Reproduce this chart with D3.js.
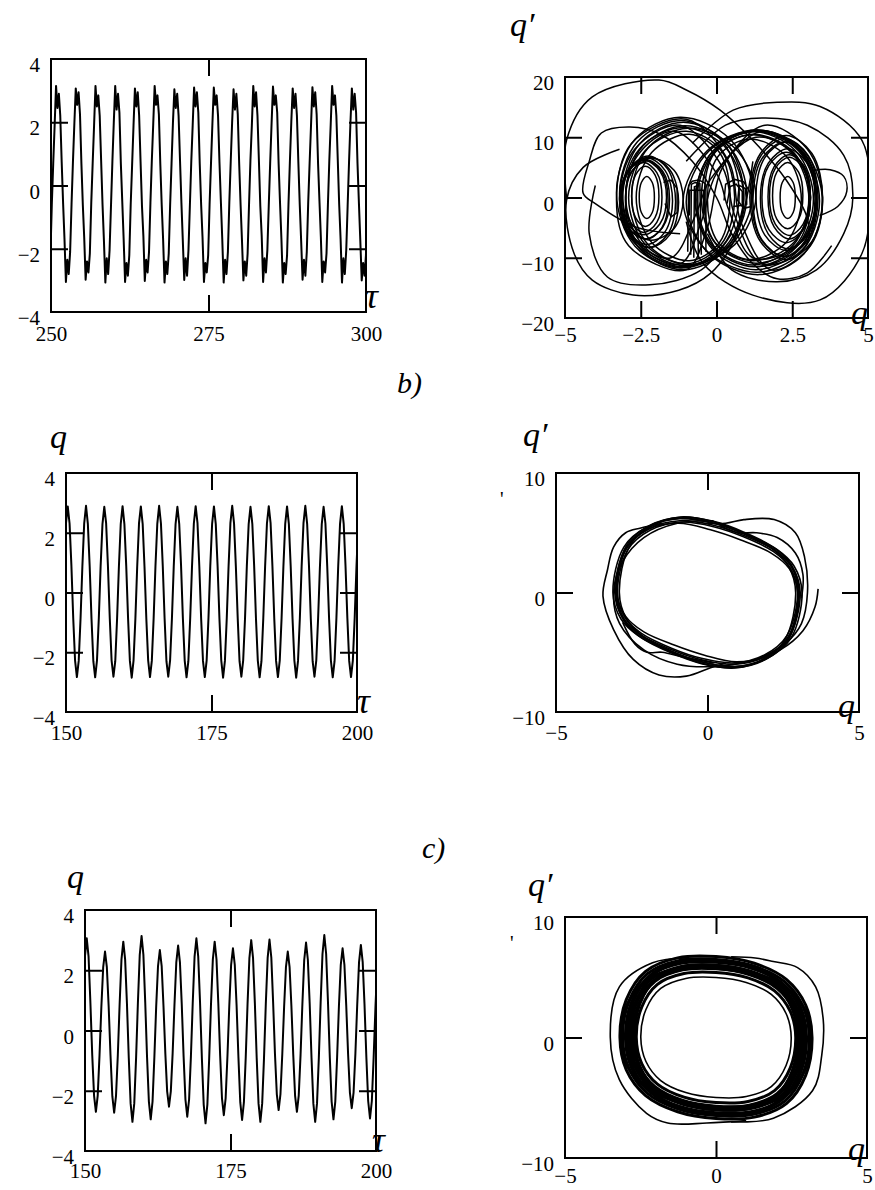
<!DOCTYPE html>
<html>
<head>
<meta charset="utf-8">
<script src="https://cdn.jsdelivr.net/npm/d3@7/dist/d3.min.js"></script>
<style>
  body { margin: 0; background: #fff; }
  text { font-family: "Liberation Serif", "Times New Roman", serif; fill: #000; }
</style>
</head>
<body>
<script>
/* ### Data ################################################################# */

// tick values
var qTimeTicks = [-4, -2, 0, 2, 4];
var tauTicksA = [250, 275, 300];
var tauTicksBC = [150, 175, 200];
var qPhaseTicksA = [-5, -2.5, 0, 2.5, 5];
var qPhaseTicksBC = [-5, 0, 5];
var dqTicksA = [-20, -10, 0, 10, 20];
var dqTicksBC = [-10, 0, 10];

// q(tau), sampled with a fixed step from tau0
var tauA0 = 249.906, dtauA = 0.2236;
var qA = [
  -2.2, -0.6, 0.7, 1.9,
  3.15, 2.45, 2.9, 2.2, 0.75, -0.55, -1.7, -3.05, -2.35, -2.8, -2.1, -0.6, 0.75, 1.95,
  3.07, 2.55, 2.95, 2.25, 0.7, -0.6, -1.65, -2.98, -2.4, -2.75, -2.15, -0.55, 0.7, 1.9,
  3.15, 2.5, 2.85, 2.2, 0.8, -0.6, -1.75, -3.07, -2.3, -2.8, -2.05, -0.65, 0.75, 2.0,
  3.15, 2.4, 2.9, 2.3, 0.7, -0.5, -1.7, -3.05, -2.45, -2.85, -2.2, -0.6, 0.65, 1.9,
  3.07, 2.5, 2.95, 2.2, 0.75, -0.65, -1.6, -3.02, -2.35, -2.75, -2.1, -0.55, 0.8, 1.95,
  3.15, 2.55, 2.85, 2.25, 0.7, -0.6, -1.7, -3.07, -2.4, -2.8, -2.15, -0.6, 0.7, 2.0,
  3.04, 2.45, 2.9, 2.2, 0.8, -0.55, -1.75, -2.99, -2.3, -2.85, -2.05, -0.65, 0.75, 1.9,
  3.1, 2.5, 2.95, 2.3, 0.7, -0.6, -1.65, -3.05, -2.45, -2.75, -2.2, -0.6, 0.7, 1.95,
  3.1, 2.55, 2.85, 2.2, 0.75, -0.5, -1.7, -3.07, -2.35, -2.8, -2.1, -0.55, 0.75, 2.0,
  3.04, 2.4, 2.9, 2.25, 0.7, -0.6, -1.75, -3.0, -2.4, -2.85, -2.15, -0.6, 0.8, 1.9,
  3.15, 2.5, 2.95, 2.2, 0.8, -0.65, -1.6, -3.05, -2.3, -2.75, -2.05, -0.65, 0.7, 1.95,
  3.13, 2.55, 2.85, 2.3, 0.7, -0.55, -1.7, -3.07, -2.45, -2.8, -2.2, -0.6, 0.75, 2.0,
  3.07, 2.45, 2.9, 2.2, 0.75, -0.6, -1.75, -2.98, -2.35, -2.85, -2.1, -0.55, 0.7, 1.9,
  3.11, 2.5, 2.95, 2.25, 0.7, -0.5, -1.65, -3.05, -2.4, -2.75, -2.15, -0.6, 0.8, 1.95,
  3.15, 2.55, 2.85, 2.2, 0.8, -0.6, -1.7, -3.07, -2.3, -2.8, -2.05, -0.65, 0.75, 2.0,
  3.07, 2.4, 2.9, 2.3, 0.7, -0.55, -1.75, -3.0, -2.45, -2.85, -2.2, -0.6, 0.7, 1.9
];

var tauB0 = 149.986, dtauB = 0.314;
var qB = [
  2.3,
  2.88, 2.31, 0.9, -0.86, -2.27, -2.83, -2.29, -0.88, 0.87, 2.31,
  2.9, 2.3, 0.88, -0.88, -2.3, -2.84, -2.27, -0.86, 0.9, 2.29,
  2.87, 2.32, 0.87, -0.87, -2.28, -2.82, -2.3, -0.87, 0.88, 2.3,
  2.89, 2.29, 0.89, -0.85, -2.29, -2.85, -2.28, -0.89, 0.86, 2.32,
  2.88, 2.3, 0.86, -0.88, -2.27, -2.83, -2.29, -0.86, 0.89, 2.3,
  2.9, 2.31, 0.88, -0.87, -2.3, -2.82, -2.27, -0.88, 0.87, 2.29,
  2.87, 2.3, 0.9, -0.86, -2.28, -2.84, -2.3, -0.87, 0.88, 2.31,
  2.89, 2.32, 0.87, -0.88, -2.29, -2.83, -2.28, -0.86, 0.9, 2.3,
  2.88, 2.29, 0.88, -0.87, -2.27, -2.85, -2.29, -0.88, 0.87, 2.32,
  2.9, 2.31, 0.86, -0.85, -2.3, -2.82, -2.27, -0.87, 0.89, 2.29,
  2.87, 2.3, 0.89, -0.88, -2.28, -2.84, -2.3, -0.86, 0.88, 2.31,
  2.89, 2.32, 0.88, -0.86, -2.29, -2.83, -2.28, -0.88, 0.86, 2.3,
  2.88, 2.29, 0.87, -0.87, -2.27, -2.85, -2.29, -0.87, 0.9, 2.32,
  2.9, 2.3, 0.9, -0.88, -2.3, -2.82, -2.27, -0.86, 0.87, 2.29,
  2.87, 2.31, 0.86, -0.87, -2.28, -2.84, -2.3, -0.88, 0.89, 2.3,
  2.89, 2.3, 0.88, -0.85, -2.29, -2.83, -2.28, -0.87, 0.88, 2.31,
  2.88
];

var tauC0 = 149.986, dtauC = 0.314;
var qC = [
  2.45,
  3.06, 2.45, 0.92, -0.81, -2.16, -2.70, -2.16, -0.81, 0.79, 2.10,
  2.62, 2.10, 0.79, -0.82, -2.18, -2.73, -2.18, -0.82, 0.89, 2.36,
  2.95, 2.36, 0.89, -0.91, -2.42, -3.03, -2.42, -0.91, 0.94, 2.51,
  3.14, 2.51, 0.94, -0.89, -2.36, -2.95, -2.36, -0.89, 0.80, 2.14,
  2.67, 2.14, 0.80, -0.76, -2.02, -2.53, -2.02, -0.76, 0.85, 2.26,
  2.82, 2.26, 0.85, -0.86, -2.29, -2.86, -2.29, -0.86, 0.92, 2.45,
  3.06, 2.45, 0.92, -0.92, -2.46, -3.08, -2.46, -0.92, 0.89, 2.36,
  2.95, 2.36, 0.89, -0.84, -2.25, -2.81, -2.25, -0.84, 0.82, 2.18,
  2.73, 2.18, 0.82, -0.89, -2.38, -2.97, -2.38, -0.89, 0.90, 2.40,
  3.00, 2.40, 0.90, -0.91, -2.42, -3.03, -2.42, -0.91, 0.91, 2.42,
  3.02, 2.42, 0.91, -0.79, -2.11, -2.64, -2.11, -0.79, 0.79, 2.10,
  2.62, 2.10, 0.79, -0.81, -2.16, -2.70, -2.16, -0.81, 0.88, 2.34,
  2.92, 2.34, 0.88, -0.91, -2.42, -3.03, -2.42, -0.91, 0.95, 2.54,
  3.17, 2.54, 0.95, -0.89, -2.36, -2.95, -2.36, -0.89, 0.82, 2.18,
  2.73, 2.18, 0.82, -0.77, -2.06, -2.58, -2.06, -0.77, 0.85, 2.27,
  2.84, 2.27, 0.85, -0.88, -2.34, -2.92, -2.34, -0.88, 0.80, 2.20,
  2.75
];

// phase plane (q, q'): closed loops and open pieces of trajectory
var loopsA = [
  // left well
  [[-2.05,0],[-2.12,2.49],[-2.3,3.5],[-2.48,2.49],[-2.55,0],[-2.48,-2.49],[-2.3,-3.5],[-2.12,-2.49]],
  [[-1.9,0.2],[-2.03,3.75],[-2.35,5.2],[-2.67,3.75],[-2.8,0.2],[-2.67,-3.35],[-2.35,-4.8],[-2.03,-3.35]],
  [[-1.6,-0.4],[-1.8,4.22],[-2.3,6.1],[-2.8,4.22],[-3.0,-0.4],[-2.8,-5.02],[-2.3,-6.9],[-1.8,-5.02]],
  [[-1.25,-0.8],[-1.53,4.53],[-2.2,6.7],[-2.87,4.53],[-3.15,-0.8],[-2.87,-6.13],[-2.2,-8.3],[-1.53,-6.13]],
  [[-1.1,-0.3],[-1.4,4.53],[-2.15,6.5],[-2.9,4.53],[-3.2,-0.3],[-2.9,-5.13],[-2.15,-7.1],[-1.4,-5.13]],
  [[-1.8,0],[-1.97,4.12],[-2.4,5.8],[-2.83,4.12],[-3.0,0],[-2.83,-4.12],[-2.4,-5.8],[-1.97,-4.12]],
  [[-1.45,-0.6],[-1.7,4.51],[-2.3,6.6],[-2.9,4.51],[-3.15,-0.6],[-2.9,-5.71],[-2.3,-7.8],[-1.7,-5.71]],
  [[-1.55,-0.3],[-1.78,4.39],[-2.35,6.3],[-2.92,4.39],[-3.15,-0.3],[-2.92,-4.99],[-2.35,-6.9],[-1.78,-4.99]],
  [[-1.35,-0.7],[-1.61,4.7],[-2.25,6.9],[-2.89,4.7],[-3.15,-0.7],[-2.89,-6.1],[-2.25,-8.3],[-1.61,-6.1]],
  [[-1.65,0],[-1.87,4.4],[-2.4,6.2],[-2.93,4.4],[-3.15,0],[-2.93,-4.4],[-2.4,-6.2],[-1.87,-4.4]],
  // right well
  [[2.6,0],[2.53,2.49],[2.35,3.5],[2.17,2.49],[2.1,0],[2.17,-2.49],[2.35,-3.5],[2.53,-2.49]],
  [[2.85,0.3],[2.71,4.2],[2.35,5.8],[1.99,4.2],[1.85,0.3],[1.99,-3.6],[2.35,-5.2],[2.71,-3.6]],
  [[3.1,0],[2.87,5.33],[2.3,7.5],[1.73,5.33],[1.5,0],[1.73,-5.33],[2.3,-7.5],[2.87,-5.33]],
  [[3.3,-0.3],[3.0,6.45],[2.25,9.2],[1.5,6.45],[1.2,-0.3],[1.5,-7.05],[2.25,-9.8],[3.0,-7.05]],
  [[3.5,0],[3.15,7.31],[2.3,10.3],[1.45,7.31],[1.1,0],[1.45,-7.31],[2.3,-10.3],[3.15,-7.31]],
  [[3.05,0.2],[2.86,4.82],[2.4,6.7],[1.94,4.82],[1.75,0.2],[1.94,-4.42],[2.4,-6.3],[2.86,-4.42]],
  [[3.3,0.2],[3.01,6.59],[2.3,9.2],[1.59,6.59],[1.3,0.2],[1.59,-6.19],[2.3,-8.8],[3.01,-6.19]],
  [[3.25,-0.2],[2.99,5.69],[2.35,8.1],[1.71,5.69],[1.45,-0.2],[1.71,-6.09],[2.35,-8.5],[2.99,-6.09]],
  [[3.35,0],[3.03,6.96],[2.25,9.8],[1.47,6.96],[1.15,0],[1.47,-6.96],[2.25,-9.8],[3.03,-6.96]],
  [[3.1,0.1],[2.9,5.07],[2.4,7.1],[1.9,5.07],[1.7,0.1],[1.9,-4.87],[2.4,-6.9],[2.9,-4.87]],
  // large loop round the left well
  [[0.9,0.5],[0.32,9.02],[-1.1,12.5],[-2.52,9.02],[-3.1,0.5],[-2.52,-8.02],[-1.1,-11.5],[0.32,-8.02]],
  [[0.6,0],[0.15,7.81],[-1.0,11],[-2.35,7.81],[-2.9,0],[-2.35,-7.81],[-1.0,-11],[0.15,-7.81]],
  [[1.2,0.8],[0.45,9.68],[-1.2,13.3],[-2.69,9.68],[-3.3,0.8],[-2.69,-8.08],[-1.2,-11.7],[0.45,-8.08]],
  [[0.45,0],[0.1,7.46],[-0.9,10.5],[-2.14,7.46],[-2.65,0],[-2.14,-7.46],[-0.9,-10.5],[0.1,-7.46]],
  [[1.0,0.3],[0.4,8.54],[-1.05,11.9],[-2.43,8.54],[-3.0,0.3],[-2.43,-7.94],[-1.05,-11.3],[0.4,-7.94]],
  [[0.75,0.6],[0.2,9.26],[-1.15,12.8],[-2.61,9.26],[-3.2,0.6],[-2.61,-8.06],[-1.15,-11.6],[0.2,-8.06]],
  [[1.3,0.2],[0.6,8.22],[-0.95,11.5],[-2.26,8.22],[-2.8,0.2],[-2.26,-7.82],[-0.95,-11.1],[0.6,-7.82]],
  [[0.9,-0.2],[0.32,8.18],[-1.1,11.6],[-2.52,8.18],[-3.1,-0.2],[-2.52,-8.58],[-1.1,-12.0],[0.32,-8.58]],
  // large loop round the right well
  [[3.3,-0.5],[2.72,7.67],[1.3,11.0],[-0.12,7.67],[-0.7,-0.5],[-0.12,-8.67],[1.3,-12.0],[2.72,-8.67]],
  [[3.1,0],[2.55,7.46],[1.2,10.5],[-0.05,7.46],[-0.4,0],[-0.05,-7.46],[1.2,-10.5],[2.55,-7.46]],
  [[3.5,-0.8],[2.89,7.72],[1.4,11.2],[-0.25,7.72],[-1.0,-0.8],[-0.25,-9.32],[1.4,-12.8],[2.89,-9.32]],
  [[2.8,-0.3],[2.31,6.8],[1.1,9.7],[0.05,6.8],[-0.3,-0.3],[0.05,-7.4],[1.1,-10.3],[2.31,-7.4]],
  [[3.2,-0.3],[2.63,7.65],[1.25,10.9],[-0.13,7.65],[-0.7,-0.3],[-0.13,-8.25],[1.25,-11.5],[2.63,-8.25]],
  [[3.4,-0.6],[2.81,7.78],[1.35,11.2],[-0.3,7.78],[-1.1,-0.6],[-0.3,-8.98],[1.35,-12.4],[2.81,-8.98]],
  [[3.05,-0.4],[2.51,7.27],[1.2,10.4],[-0.11,7.27],[-0.65,-0.4],[-0.11,-8.07],[1.2,-11.2],[2.51,-8.07]],
  [[3.3,0.1],[2.72,7.91],[1.3,11.1],[-0.02,7.91],[-0.5,0.1],[-0.02,-7.71],[1.3,-10.9],[2.72,-7.71]],
  // figure-eight passes between the wells
  [[-1.2,12],[0.2,5],[0.6,-3],[1.5,-11],[2.8,-8],[3.3,0],[2.8,7.5],[1.5,11],[0.0,4],[-0.5,-4],[-1.2,-11],[-2.8,-7],[-3.2,0],[-2.7,8]],
  [[-1.0,13],[0.4,6],[0.8,-4],[1.8,-12],[3.1,-8],[3.5,0],[3.0,8],[1.6,12],[0.2,5],[-0.3,-5],[-1.0,-12],[-2.9,-8],[-3.3,0],[-2.8,9]],
  [[-1.4,11],[0.0,4],[0.4,-2],[1.2,-10],[2.6,-8],[3.1,0],[2.6,7],[1.3,10],[-0.2,3],[-0.7,-3],[-1.5,-10],[-2.7,-7],[-3.0,0],[-2.6,7]]
];
var orbitsA = [
  [[-4.95,0],[-4.95,9.5],[-4.1,16.7],[-1.9,19.5],[-0.98,17.8],[0.12,14.5],[1.2,9.5],[2.3,2.9],[3.0,-3.5],[3.0,-7.5],[2.3,-10.5],[1.3,-11.5]],
  [[-3.2,8],[-4.4,5],[-4.95,-0.5],[-4.7,-9.3],[-4.1,-13.7],[-2.75,-16.2],[-1.25,-15.4],[-0.2,-12.6],[0.6,-7],[1.0,0],[1.2,6]],
  [[-0.8,9],[0.55,14.5],[2.0,15.8],[3.42,15.1],[4.8,9.5],[5.05,0],[4.8,-9.3],[3.42,-17],[1.2,-16.2],[-0.45,-10.9],[-1.0,-4]],
  [[-1.2,-6],[-2.6,-5],[-4.0,-1],[-4.4,0.7],[-4.2,6],[-3.8,10.7],[-2.85,11.7],[-1.85,10.5],[-0.8,6],[0.0,0],[0.5,-6],[1.2,-11],[2.0,-13.5],[3.0,-12.5],[3.8,-8]],
  [[-1.0,6],[0.3,12],[1.5,13.2],[3.0,12.0],[4.2,7],[4.5,0],[4.2,-6],[3.3,-12],[2.0,-14],[0.5,-12],[-0.3,-6]],
  [[-4.0,2],[-4.2,-6],[-3.6,-13.2],[-2.2,-14.5],[-0.5,-12],[0.5,-6]],
  [[3.2,4.5],[3.75,4.6],[4.2,3.5],[4.3,1],[4.0,-1.5],[3.4,-3]]
];
var spikesA = [
  [[-0.95,-9],[-0.92,2.0],[-0.8,2.7],[-0.6,2.9],[-0.45,2.6],[-0.35,2.2],[-0.35,-9]],
  [[-0.85,-9.5],[-0.83,2.2],[-0.7,2.5],[-0.55,2.3],[-0.5,-9.5]],
  [[-0.75,-10],[-0.73,1.8],[-0.62,2.0],[-0.6,-10]],
  [[-0.9,-3],[-0.88,1.2],[-0.42,1.2],[-0.42,-3]],
  [[0.25,-0.5],[0.3,2.2],[0.6,3.0],[0.9,2.6],[1.15,0.5],[1.15,-1.5],[0.9,-1.8],[0.7,-0.5],[0.75,2.0],[0.95,1.5],[1.0,-1.2]],
  [[0.35,-1.0],[0.45,1.8],[0.65,2.2],[0.85,1.0],[0.85,-1.3],[0.55,-1.5]],
  [[-1.75,2.5],[-1.5,2.9],[-1.3,1.5],[-1.3,-2.5],[-1.5,-3.2],[-1.7,-1]]
];

var loopsB = [
  [[3.0,0],[2.75,2.2],[2.2,3.6],[1.2,4.9],[0.2,5.8],[-0.9,6.2],[-1.9,5.5],[-2.65,3.8],[-3.0,0],[-2.75,-2.2],[-2.2,-3.6],[-1.2,-4.9],[-0.2,-5.8],[0.9,-6.2],[1.9,-5.5],[2.65,-3.8]],
  [[3.06,0],[2.8,2.13],[2.24,3.49],[1.22,4.75],[0.2,5.63],[-0.92,6.01],[-1.94,5.34],[-2.7,3.69],[-3.06,0],[-2.8,-2.13],[-2.24,-3.49],[-1.22,-4.75],[-0.2,-5.63],[0.92,-6.01],[1.94,-5.34],[2.7,-3.69]],
  [[2.91,0],[2.67,2.24],[2.13,3.67],[1.16,5.0],[0.19,5.92],[-0.87,6.32],[-1.84,5.61],[-2.57,3.88],[-2.91,0],[-2.67,-2.24],[-2.13,-3.67],[-1.16,-5.0],[-0.19,-5.92],[0.87,-6.32],[1.84,-5.61],[2.57,-3.88]],
  [[2.98,0],[2.7,2.0],[2.1,3.3],[1.1,4.4],[0.1,5.25],[-0.95,5.8],[-1.95,5.3],[-2.7,3.6],[-3.0,0],[-2.7,-2.0],[-2.1,-3.3],[-1.1,-4.4],[-0.1,-5.25],[0.95,-5.8],[1.95,-5.3],[2.7,-3.6]],
  [[3.12,0],[2.86,2.2],[2.29,3.6],[1.25,4.9],[0.21,5.8],[-0.94,6.2],[-1.98,5.5],[-2.76,3.8],[-3.12,0],[-2.86,-2.2],[-2.29,-3.6],[-1.25,-4.9],[-0.21,-5.8],[0.94,-6.2],[1.98,-5.5],[2.76,-3.8]],
  [[2.97,0],[2.72,2.09],[2.18,3.42],[1.19,4.66],[0.2,5.51],[-0.89,5.89],[-1.88,5.23],[-2.62,3.61],[-2.97,0],[-2.72,-2.09],[-2.18,-3.42],[-1.19,-4.66],[-0.2,-5.51],[0.89,-5.89],[1.88,-5.23],[2.62,-3.61]],
  [[3.03,0],[2.77,2.3],[2.2,3.75],[1.2,5.05],[0.2,5.95],[-0.9,6.3],[-1.92,5.6],[-2.68,3.9],[-3.03,0],[-2.77,-2.3],[-2.2,-3.75],[-1.2,-5.05],[-0.2,-5.95],[0.9,-6.3],[1.92,-5.6],[2.68,-3.9]]
];
var orbitsB = [
  [[3.65,0.3],[3.55,-1.2],[3.15,-3.2],[2.4,-4.8],[1.3,-5.8],[0.2,-6.2],[-1.0,-6.0],[-2.1,-4.8],[-2.9,-2.6],[-3.1,0],[-2.8,2.6],[-2.1,4.6],[-1.0,5.8],[0.2,6.0]],
  [[0.0,5.8],[0.6,5.8],[1.2,6.1],[2.2,6.1],[2.9,5.0],[3.2,3.0],[3.3,0],[3.1,-2.6],[2.6,-4.2],[1.8,-5.4]],
  [[0.4,5.6],[1.0,5.0],[1.6,5.0],[2.3,4.6],[2.9,3.3],[3.15,1.5],[3.1,-0.5]],
  [[-1.5,5.8],[-2.2,5.4],[-2.7,5.0],[-3.1,3.8],[-3.3,1.9],[-3.45,-0.3],[-3.1,-3.1],[-2.45,-5.6],[-1.6,-6.9],[-0.7,-7.0],[0.1,-6.3],[0.6,-5.9]],
  [[-2.8,-2.5],[-2.4,-4.3],[-2.0,-5.0],[-1.5,-5.0],[-0.8,-5.4],[0.2,-5.9]]
];

var loopsC = [
  [[2.49,0],[2.32,1.99],[1.83,3.57],[1.0,4.57],[0,4.98],[-1.0,4.9],[-1.83,4.07],[-2.32,2.32],[-2.49,0],[-2.32,-1.99],[-1.83,-3.57],[-1.0,-4.57],[0,-4.98],[1.0,-4.9],[1.83,-4.07],[2.32,-2.32]],
  [[2.64,0],[2.46,2.16],[1.94,3.87],[1.06,4.95],[0,5.4],[-1.06,5.31],[-1.94,4.41],[-2.46,2.52],[-2.64,0],[-2.46,-2.16],[-1.94,-3.87],[-1.06,-4.95],[0,-5.4],[1.06,-5.31],[1.94,-4.41],[2.46,-2.52]],
  [[2.7,0],[2.52,2.4],[1.98,4.3],[1.08,5.5],[0,6.0],[-1.08,5.9],[-1.98,4.9],[-2.52,2.8],[-2.7,0],[-2.52,-2.4],[-1.98,-4.3],[-1.08,-5.5],[0,-6.0],[1.08,-5.9],[1.98,-4.9],[2.52,-2.8]],
  [[2.76,0],[2.58,2.28],[2.02,4.09],[1.1,5.23],[0,5.7],[-1.1,5.61],[-2.02,4.66],[-2.58,2.66],[-2.76,0],[-2.58,-2.28],[-2.02,-4.09],[-1.1,-5.23],[0,-5.7],[1.1,-5.61],[2.02,-4.66],[2.58,-2.66]],
  [[2.82,0],[2.63,2.57],[2.07,4.6],[1.13,5.89],[0,6.42],[-1.13,6.31],[-2.07,5.24],[-2.63,3.0],[-2.82,0],[-2.63,-2.57],[-2.07,-4.6],[-1.13,-5.89],[0,-6.42],[1.13,-6.31],[2.07,-5.24],[2.63,-3.0]],
  [[2.88,0],[2.69,2.4],[2.11,4.3],[1.15,5.5],[0,6.0],[-1.15,5.9],[-2.11,4.9],[-2.69,2.8],[-2.88,0],[-2.69,-2.4],[-2.11,-4.3],[-1.15,-5.5],[0,-6.0],[1.15,-5.9],[2.11,-4.9],[2.69,-2.8]],
  [[3.0,0],[2.8,2.5],[2.2,4.47],[1.2,5.72],[0,6.24],[-1.2,6.14],[-2.2,5.1],[-2.8,2.91],[-3.0,0],[-2.8,-2.5],[-2.2,-4.47],[-1.2,-5.72],[0,-6.24],[1.2,-6.14],[2.2,-5.1],[2.8,-2.91]],
  [[3.15,0],[2.94,2.33],[2.31,4.17],[1.26,5.34],[0,5.82],[-1.26,5.72],[-2.31,4.75],[-2.94,2.72],[-3.15,0],[-2.94,-2.33],[-2.31,-4.17],[-1.26,-5.34],[0,-5.82],[1.26,-5.72],[2.31,-4.75],[2.94,-2.72]],
  [[3.09,0],[2.88,2.59],[2.27,4.64],[1.24,5.94],[0,6.48],[-1.24,6.37],[-2.27,5.29],[-2.88,3.02],[-3.09,0],[-2.88,-2.59],[-2.27,-4.64],[-1.24,-5.94],[0,-6.48],[1.24,-6.37],[2.27,-5.29],[2.88,-3.02]],
  [[3.18,0],[2.97,2.69],[2.33,4.82],[1.27,6.16],[0,6.72],[-1.27,6.61],[-2.33,5.49],[-2.97,3.14],[-3.18,0],[-2.97,-2.69],[-2.33,-4.82],[-1.27,-6.16],[0,-6.72],[1.27,-6.61],[2.33,-5.49],[2.97,-3.14]],
  [[2.94,0],[2.74,2.56],[2.16,4.58],[1.18,5.86],[0,6.36],[-1.18,6.26],[-2.16,5.2],[-2.74,2.98],[-2.94,0],[-2.74,-2.56],[-2.16,-4.58],[-1.18,-5.86],[0,-6.36],[1.18,-6.26],[2.16,-5.2],[2.74,-2.98]],
  [[2.85,0],[2.66,2.3],[2.09,4.1],[1.14,5.25],[0,5.75],[-1.14,5.65],[-2.09,4.68],[-2.66,2.68],[-2.85,0],[-2.66,-2.3],[-2.09,-4.1],[-1.14,-5.25],[0,-5.75],[1.14,-5.65],[2.09,-4.68],[2.66,-2.68]]
];
var orbitsC = [
  [[-1.0,6.6],[-2.1,6.2],[-3.2,4.2],[-3.5,0],[-3.2,-3.5],[-2.3,-6.3],[-1.6,-7.1],[-0.3,-7.1],[1.0,-6.9]],
  [[0.5,6.7],[1.3,6.6],[1.9,6.3],[2.7,5.8],[3.3,4.2],[3.55,1.5],[3.5,-1.5],[3.2,-4.4],[1.9,-6.7],[0.5,-7.0]]
];

/* ### Layout ############################################################### */
var W = 875, H = 1190;
var serif = "'Liberation Serif', 'Times New Roman', serif";
var svg = d3.select("body").append("svg").attr("width", W).attr("height", H);

var fmt = function(d){ return d < 0 ? "\u2212" + Math.abs(d) : String(d); };

// one framed plot: inner ticks on four sides, labels left and bottom
function frame(id, box, xDom, yDom, xTicks, yTicks, xPad){
  var x = d3.scaleLinear().domain(xDom).range([box.left, box.right]);
  var y = d3.scaleLinear().domain(yDom).range([box.bottom, box.top]);
  var g = svg.append("g");

  svg.append("clipPath").attr("id", id).append("rect")
    .attr("x", box.left).attr("y", box.top)
    .attr("width", box.right - box.left).attr("height", box.bottom - box.top);

  var xIn = xTicks.slice(1, -1), yIn = yTicks.slice(1, -1);
  var ax = [
    [d3.axisLeft(y).tickValues(yIn), "translate(" + box.left + ",0)"],
    [d3.axisRight(y).tickValues(yIn), "translate(" + box.right + ",0)"],
    [d3.axisTop(x).tickValues(xIn), "translate(0," + box.top + ")"],
    [d3.axisBottom(x).tickValues(xIn), "translate(0," + box.bottom + ")"]
  ];
  ax.forEach(function(a){
    g.append("g").attr("transform", a[1])
      .call(a[0].tickSize(-17).tickFormat(""))
      .selectAll("line").attr("stroke-width", 2);
  });

  var yl = g.append("g").attr("transform", "translate(" + box.left + ",0)")
    .call(d3.axisLeft(y).tickValues(yTicks).tickSize(0).tickPadding(11).tickFormat(fmt));
  yl.selectAll("text").attr("dy", "0.6em");
  g.append("g").attr("transform", "translate(0," + box.bottom + ")")
    .call(d3.axisBottom(x).tickValues(xTicks).tickSize(0).tickPadding(xPad).tickFormat(fmt));

  g.selectAll(".domain").remove();
  g.selectAll("g").attr("font-family", serif).attr("font-size", 21);

  g.append("rect")
    .attr("x", box.left).attr("y", box.top)
    .attr("width", box.right - box.left).attr("height", box.bottom - box.top)
    .attr("fill", "none").attr("stroke", "#000").attr("stroke-width", 2);

  return {x: x, y: y, g: g, id: id};
}

function drawTime(f, t0, dt, values){
  var line = d3.line()
    .x(function(d, i){ return f.x(t0 + i * dt); })
    .y(function(d){ return f.y(d); });
  f.g.insert("path", ":first-child").datum(values)
    .attr("clip-path", "url(#" + f.id + ")")
    .attr("fill", "none").attr("stroke", "#000").attr("stroke-width", 2)
    .attr("stroke-linejoin", "round")
    .attr("d", line);
}

function drawPhase(f, sets, width){
  sets.forEach(function(s){
    var line = d3.line().curve(s.curve)
      .x(function(d){ return f.x(d[0]); })
      .y(function(d){ return f.y(d[1]); });
    f.g.insert("g", ":first-child").attr("clip-path", "url(#" + f.id + ")")
      .selectAll("path").data(s.data).enter().append("path")
      .attr("fill", "none").attr("stroke", "#000").attr("stroke-width", width)
      .attr("d", line);
  });
}

function label(x, y, txt, size, italic){
  svg.append("text").attr("x", x).attr("y", y)
    .attr("font-family", serif)
    .attr("font-size", size).attr("font-style", italic ? "italic" : "normal")
    .text(txt);
}

/* ### Panels ############################################################### */
var fA1 = frame("cA1", {left: 51, top: 59, right: 366, bottom: 312}, [250, 300], [-4, 4], tauTicksA, qTimeTicks, 14);
drawTime(fA1, tauA0, dtauA, qA);

var fA2 = frame("cA2", {left: 565, top: 77, right: 868, bottom: 318}, [-5, 5], [-20, 20], qPhaseTicksA, dqTicksA, 9);
drawPhase(fA2, [
  {data: loopsA, curve: d3.curveCatmullRomClosed},
  {data: orbitsA, curve: d3.curveCatmullRom},
  {data: spikesA, curve: d3.curveLinear}
], 1.5);

var fB1 = frame("cB1", {left: 66, top: 473, right: 357, bottom: 712}, [150, 200], [-4, 4], tauTicksBC, qTimeTicks, 13);
drawTime(fB1, tauB0, dtauB, qB);

var fB2 = frame("cB2", {left: 556, top: 473, right: 859, bottom: 712}, [-5, 5], [-10, 10], qPhaseTicksBC, dqTicksBC, 13);
drawPhase(fB2, [
  {data: loopsB, curve: d3.curveCatmullRomClosed},
  {data: orbitsB, curve: d3.curveCatmullRom}
], 1.6);

var fC1 = frame("cC1", {left: 85, top: 910, right: 376, bottom: 1151}, [150, 200], [-4, 4], tauTicksBC, qTimeTicks, 12);
drawTime(fC1, tauC0, dtauC, qC);

var fC2 = frame("cC2", {left: 565, top: 917, right: 867, bottom: 1158}, [-5, 5], [-10, 10], qPhaseTicksBC, dqTicksBC, 10);
drawPhase(fC2, [
  {data: loopsC.slice(0, 1), curve: d3.curveCatmullRomClosed},
  {data: orbitsC, curve: d3.curveCatmullRom}
], 1.6);
drawPhase(fC2, [
  {data: loopsC.slice(1), curve: d3.curveCatmullRomClosed}
], 3);

/* ### Axis names and captions ############################################## */
label(365, 308, "\u03c4", 36, true);
label(510, 36, "q\u2032", 34, true);
label(851, 324, "q", 34, true);

label(397, 393, "b)", 30, true);
label(50, 448, "q", 34, true);
label(357, 713, "\u03c4", 36, true);
label(523, 446, "q\u2032", 34, true);
label(838, 717, "q", 34, true);
label(500, 506, "'", 20, false);

label(422, 858, "c)", 30, true);
label(67, 888, "q", 34, true);
label(372, 1152, "\u03c4", 36, true);
label(528, 896, "q\u2032", 34, true);
label(848, 1160, "q", 34, true);
label(510, 950, "'", 20, false);
</script>
</body>
</html>
